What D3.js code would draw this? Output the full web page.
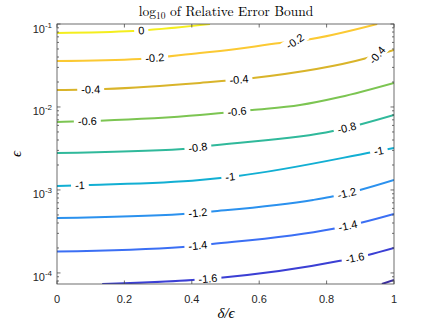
<!DOCTYPE html>
<html><head><meta charset="utf-8">
<script src="https://cdn.jsdelivr.net/npm/d3@7"></script>
<style>body{margin:0;background:#fff;overflow:hidden}</style>
</head><body>
<script>
// contour levels of log10(relative error bound)
var levels = [0, -0.2, -0.4, -0.6, -0.8, -1, -1.2, -1.4, -1.6, -1.8];
var levelColors = ["#f4ee1e", "#fbc933", "#d9b42a", "#7cc552", "#30b99b",
                   "#12afd3", "#2b91ee", "#3b6ff4", "#3b3fd4", "#3b2ca1"];

// contour paths, points are [delta/eps, eps]
var c0   = [[0, 0.078], [0.226, 0.0824], [0.454, 0.1]];
var c02  = [[0, 0.0358], [0.246, 0.0379], [0.424, 0.0448], [0.484, 0.0473], [0.662, 0.059], [0.736, 0.0641], [0.95, 0.1]];
var c04  = [[0, 0.016], [0.142, 0.0165], [0.424, 0.0195], [0.582, 0.0223], [0.92, 0.0389], [1, 0.0486]];
var c06  = [[0, 0.00659], [0.128, 0.00684], [0.424, 0.00801], [0.579, 0.0092], [0.721, 0.01057], [0.84, 0.0132], [1, 0.0195]];
var c08  = [[0, 0.00279], [0.374, 0.00312], [0.46, 0.00344], [0.819, 0.00514], [0.905, 0.00624], [1, 0.00801]];
var c10  = [[0, 0.001117], [0.098, 0.001148], [0.424, 0.001319], [0.537, 0.001476], [0.938, 0.00287], [1, 0.00321]];
var c12  = [[0, 0.00046], [0.374, 0.000514], [0.46, 0.000551], [0.76, 0.000758], [0.81, 0.000824], [0.899, 0.001], [1, 0.001319]];
var c14  = [[0, 0.000181], [0.374, 0.000206], [0.46, 0.000223], [0.816, 0.000339], [0.899, 0.0004], [1, 0.000514]];
var c16  = [[0.134, 0.0000736], [0.401, 0.0000824], [0.478, 0.0000871], [0.84, 0.00014], [0.923, 0.000165], [1, 0.0002]];
var c18  = [[0.964, 0.0000736], [1, 0.0000824]];
var contours = [c0, c02, c04, c06, c08, c10, c12, c14, c16, c18];

// inline labels: [contour index, delta/eps]
var labelLevel = [0, 1, 1, 2, 2, 2, 3, 3, 4, 4, 5, 5, 5, 6, 6, 7, 7, 8, 8];
var labelX     = [0.25, 0.29, 0.706, 0.1, 0.54, 0.95, 0.09, 0.534, 0.418, 0.86, 0.068, 0.514, 0.955, 0.418, 0.86, 0.418, 0.863, 0.448, 0.884];
var labelTilt  = {2: -33, 5: -50};

var xTicks = [0, 0.2, 0.4, 0.6, 0.8, 1];
var yTicks = [1e-4, 1e-3, 1e-2, 1e-1];
var yLow = 7.36e-5, yHigh = 0.1;

var W = 436, H = 327;
var L = 57, R = 394, T = 24, B = 284;

var svg = d3.select("body").append("svg")
  .attr("width", W).attr("height", H)
  .style("font-family", "'Liberation Sans', Arial, sans-serif");

var x = d3.scaleLinear().domain([0, 1]).range([L, R]);
var y = d3.scaleLog().domain([yLow, yHigh]).range([B, T]);

svg.append("clipPath").attr("id", "plotclip")
  .append("rect").attr("x", L).attr("y", T).attr("width", R - L).attr("height", B - T);

var line = d3.line()
  .x(function(d) { return x(d[0]); })
  .y(function(d) { return y(d[1]); })
  .curve(d3.curveMonotoneX);

var plot = svg.append("g").attr("clip-path", "url(#plotclip)");

var paths = [];
for (var i = 0; i < contours.length; i++) {
  var p = plot.append("path")
    .attr("d", line(contours[i]))
    .attr("fill", "none")
    .attr("stroke", levelColors[i])
    .attr("stroke-width", 2);
  paths.push(p.node());
}

function lenAtX(node, px) {
  var lo = 0, hi = node.getTotalLength();
  for (var k = 0; k < 40; k++) {
    var mid = (lo + hi) / 2;
    if (node.getPointAtLength(mid).x < px) lo = mid; else hi = mid;
  }
  return lo;
}

function fmt(v) { return v === 0 ? "0" : String(v); }

var labels = svg.append("g");
for (var j = 0; j < labelLevel.length; j++) {
  var node = paths[labelLevel[j]];
  var len = lenAtX(node, x(labelX[j]));
  var tot = node.getTotalLength();
  var pt = node.getPointAtLength(len);
  var a = node.getPointAtLength(Math.max(0, len - 4));
  var b = node.getPointAtLength(Math.min(tot, len + 4));
  var ang = Math.atan2(b.y - a.y, b.x - a.x) * 180 / Math.PI;
  if (labelTilt[j] !== undefined) ang = labelTilt[j];
  var g = labels.append("g")
    .attr("transform", "translate(" + pt.x + "," + pt.y + ") rotate(" + ang + ")");
  var t = g.append("text")
    .attr("text-anchor", "middle")
    .attr("dy", "0.35em")
    .attr("font-size", 11)
    .attr("fill", "#000")
    .text(fmt(levels[labelLevel[j]]));
  var bw = t.node().getComputedTextLength();
  g.insert("rect", "text")
    .attr("x", -bw / 2 - 4).attr("y", -6)
    .attr("width", bw + 8).attr("height", 12)
    .attr("fill", "#fff");
}

// axes box
var axCol = "#4a4a4a";
svg.append("rect")
  .attr("x", L).attr("y", T).attr("width", R - L).attr("height", B - T)
  .attr("fill", "none").attr("stroke", axCol).attr("stroke-width", 0.8);

// x ticks, inside, top and bottom
xTicks.forEach(function(v) {
  svg.append("line").attr("x1", x(v)).attr("x2", x(v)).attr("y1", B).attr("y2", B - 3.5)
    .attr("stroke", axCol).attr("stroke-width", 0.8);
  svg.append("line").attr("x1", x(v)).attr("x2", x(v)).attr("y1", T).attr("y2", T + 3.5)
    .attr("stroke", axCol).attr("stroke-width", 0.8);
  svg.append("text").attr("x", x(v)).attr("y", B + 19)
    .attr("text-anchor", "middle").attr("font-size", 11).attr("fill", "#262626")
    .text(String(v));
});

// y ticks, log axis with minor ticks
var allY = y.ticks().filter(function(v) { return v >= yLow && v <= yHigh * 1.0001; });
allY.forEach(function(v) {
  var major = yTicks.some(function(m) { return Math.abs(m - v) / m < 1e-6; });
  var s = major ? 3.5 : 2;
  svg.append("line").attr("x1", L).attr("x2", L + s).attr("y1", y(v)).attr("y2", y(v))
    .attr("stroke", axCol).attr("stroke-width", 0.8);
  svg.append("line").attr("x1", R).attr("x2", R - s).attr("y1", y(v)).attr("y2", y(v))
    .attr("stroke", axCol).attr("stroke-width", 0.8);
});
yTicks.forEach(function(v) {
  var e = Math.round(Math.log10(v));
  var t = svg.append("text").attr("x", L - 5).attr("y", y(v) + 8.5)
    .attr("text-anchor", "end").attr("font-size", 11).attr("fill", "#262626");
  t.append("tspan").text("10");
  t.append("tspan").attr("font-size", 8).attr("dy", -5).text(String(e));
});

// title and axis labels
var title = svg.append("text").attr("x", 226).attr("y", 16)
  .attr("text-anchor", "middle")
  .attr("font-family", "'Latin Modern Roman', 'Liberation Serif', 'DejaVu Serif', serif")
  .attr("font-size", 13.5).attr("fill", "#000");
title.append("tspan").text("log");
title.append("tspan").attr("font-size", 9.5).attr("dy", 3).text("10");
title.append("tspan").attr("dy", -3).text(" of Relative Error Bound");

svg.append("text").attr("x", 226).attr("y", 318)
  .attr("text-anchor", "middle")
  .attr("font-family", "'Liberation Serif', serif").attr("font-style", "italic")
  .attr("font-size", 15).attr("fill", "#000")
  .text("δ/ϵ");

svg.append("text")
  .attr("transform", "translate(21,154) rotate(-90)")
  .attr("text-anchor", "middle")
  .attr("font-family", "'Liberation Serif', serif").attr("font-style", "italic")
  .attr("font-size", 15).attr("fill", "#000")
  .text("ϵ");
</script>
</body></html>
